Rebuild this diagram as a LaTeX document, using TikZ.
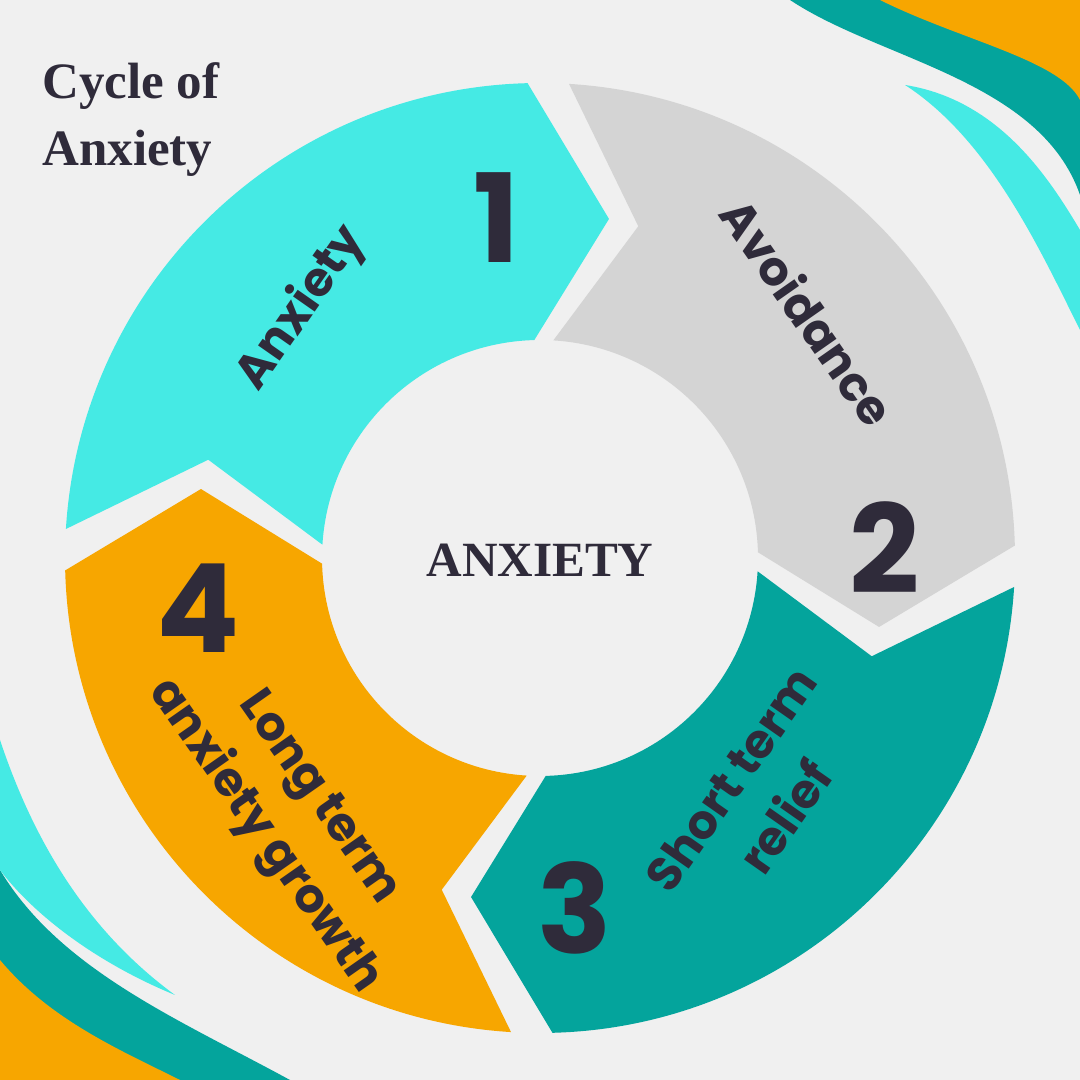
\documentclass[tikz,border=0pt]{standalone}
\usepackage{fontspec}
\setmainfont{Liberation Serif}
\newfontfamily\lblfont{Poppins}
\definecolor{bgc}{HTML}{F0F0F0}
\definecolor{cyanc}{HTML}{45EAE4}
\definecolor{grayc}{HTML}{D4D4D4}
\definecolor{tealc}{HTML}{04A49C}
\definecolor{orangec}{HTML}{F7A600}
\definecolor{darkc}{HTML}{2F2B3A}
\tikzset{
  seglabel/.style={text=darkc,font=\lblfont\bfseries\fontsize{13.5}{19}\selectfont,align=center},
  numlabel/.style={text=darkc,font=\lblfont\bfseries\fontsize{35}{35}\selectfont}
}
\newcommand{\segpath}[3]{% start angle, end angle, colour
  \fill[#3] (#1-2.5:475) arc[start angle=#1-2.5,end angle=#2+2.5,radius=475]
   -- (#2+2.5-13:346) -- (#2+2.5:218) arc[start angle=#2+2.5,end angle=#1-2.5,radius=218]
   -- (#1-2.5-13:346) -- cycle;}
\begin{document}
\begin{tikzpicture}[x=0.01cm,y=0.01cm]
\useasboundingbox (0,0) rectangle (1080,1080);
\fill[bgc] (0,0) rectangle (1080,1080);
% corner waves top right
\fill[tealc] (790,1080) .. controls (880,1020) and (1040,1000) .. (1080,885) -- (1080,1080) -- cycle;
\fill[orangec] (880,1080) .. controls (960,1040) and (1060,1020) .. (1080,980) -- (1080,1080) -- cycle;
\fill[cyanc] (905,995) .. controls (1000,980) and (1050,900) .. (1080,850) -- (1080,750) .. controls (1040,830) and (990,940) .. (905,995) -- cycle;
% bottom left
\fill[tealc] (0,210) .. controls (60,110) and (180,60) .. (290,0) -- (0,0) -- cycle;
\fill[orangec] (0,120) .. controls (50,60) and (120,30) .. (180,0) -- (0,0) -- cycle;
\fill[cyanc] (0,340) .. controls (40,220) and (100,140) .. (175,85) .. controls (90,120) and (30,170) .. (0,210) -- cycle;
% ring
\begin{scope}[shift={(540,522)},rotate=-1]
\segpath{180}{90}{cyanc}
\segpath{90}{0}{grayc}
\segpath{0}{-90}{tealc}
\segpath{-90}{-180}{orangec}
\end{scope}
\node[text=darkc,font=\bfseries\fontsize{14.5}{19}\selectfont,align=left,anchor=north west] (title) at (30,1030) {Cycle of\\Anxiety};
\node[text=darkc,font=\bfseries\fontsize{14}{18}\selectfont] (center) at (540,520) {ANXIETY};
\node[seglabel,rotate=55] (l1) at (302,772) {Anxiety};
\node[seglabel,rotate=-55] (l2) at (808,768) {Avoidance};
\node[seglabel,rotate=55] (l3) at (758,282) {Short term\\relief};
\node[seglabel,rotate=-55] (l4) at (290,262) {Long term\\anxiety growth};
\node[numlabel] (n1) at (497,862) {1};
\node[numlabel] (n2) at (885,532) {2};
\node[numlabel] (n3) at (575,172) {3};
\node[numlabel] (n4) at (198,472) {4};
\end{tikzpicture}
\end{document}
